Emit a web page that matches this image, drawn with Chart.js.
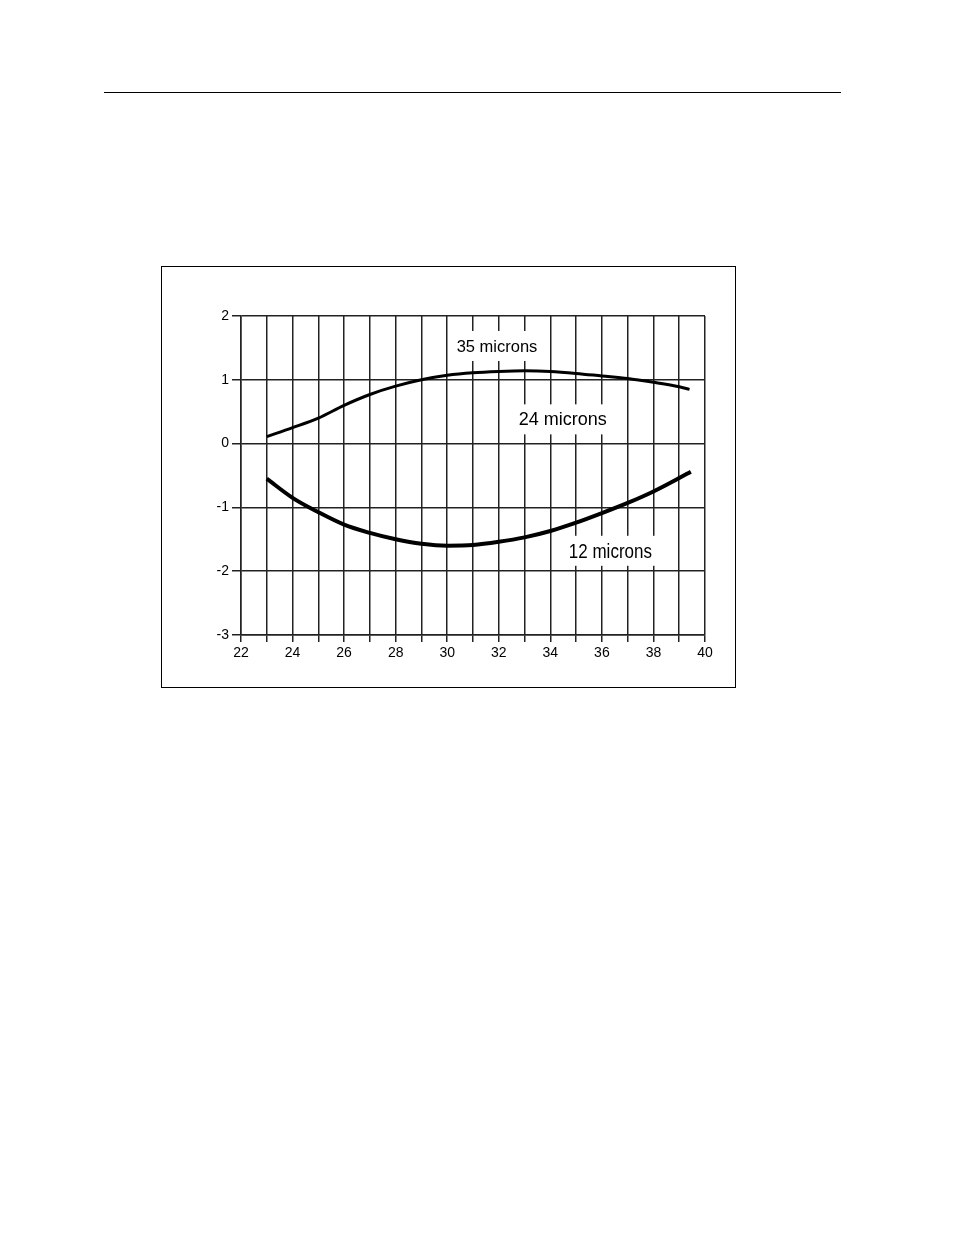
<!DOCTYPE html>
<html>
<head>
<meta charset="utf-8">
<script src="https://cdn.jsdelivr.net/npm/chart.js@4.4.1/dist/chart.umd.min.js"></script>
<style>
  html, body { margin: 0; padding: 0; background: #fff; }
  body { width: 954px; height: 1235px; position: relative; overflow: hidden; }
  #rule { position: absolute; left: 104px; top: 92px; width: 737px; height: 0; border-top: 1px solid #000; }
  #frame { position: absolute; left: 161px; top: 266px; width: 573px; height: 420px; border: 1px solid #000; }
  #wrap { position: absolute; left: 0; top: 0; width: 573px; height: 420px; }
</style>
</head>
<body>
<div id="rule"></div>
<div id="frame"><div id="wrap"><canvas id="chart"></canvas></div></div>
<script>
const FONT = "'Liberation Sans', Arial, sans-serif";

// axis ranges
const xMin = 22, xMax = 40;
const yMin = -3, yMax = 2;

// upper curve
const upperX = [23, 24, 25, 26, 27, 28, 29, 30, 31, 32, 33, 34, 35, 36, 37, 38, 39, 39.4];
const upperY = [0.11, 0.25, 0.40, 0.60, 0.77, 0.90, 1.0, 1.07, 1.11, 1.13, 1.14, 1.13, 1.10, 1.06, 1.02, 0.96, 0.89, 0.85];

// lower curve
const lowerX = [23, 24, 25, 26, 27, 28, 29, 30, 31, 32, 33, 34, 35, 36, 37, 38, 39, 39.45];
const lowerY = [-0.55, -0.85, -1.075, -1.27, -1.40, -1.50, -1.57, -1.60, -1.59, -1.54, -1.47, -1.37, -1.24, -1.09, -0.93, -0.75, -0.54, -0.44];

// curve labels (placed in data units)
const labelText = ['35 microns', '24 microns', '12 microns'];
const labelX = [31.93, 34.48, 36.33];
const labelY = [1.53, 0.38, -1.68];
const labelSize = [16.5, 18, 21];
const labelSquash = [1, 1, 0.81];

const toPoints = (xs, ys) => xs.map((x, i) => ({ x, y: ys[i] }));

const curveLabels = {
  id: 'curveLabels',
  afterDatasetsDraw(chart) {
    const { ctx, scales } = chart;
    labelText.forEach((t, i) => {
      const px = scales.x.getPixelForValue(labelX[i]);
      const py = scales.y.getPixelForValue(labelY[i]);
      ctx.save();
      ctx.font = labelSize[i] + 'px ' + FONT;
      const w = ctx.measureText(t).width * labelSquash[i];
      ctx.fillStyle = '#fff';
      ctx.fillRect(px - w / 2 - 5, py - 15, w + 10, 30);
      ctx.translate(px, py + 1);
      ctx.scale(labelSquash[i], 1);
      ctx.fillStyle = '#000';
      ctx.textAlign = 'center';
      ctx.textBaseline = 'middle';
      ctx.fillText(t, 0, 0);
      ctx.restore();
    });
  }
};

new Chart(document.getElementById('chart'), {
  type: 'line',
  data: {
    datasets: [
      {
        data: toPoints(upperX, upperY),
        borderColor: '#000',
        borderWidth: 3,
        pointRadius: 0,
        cubicInterpolationMode: 'monotone',
        fill: false
      },
      {
        data: toPoints(lowerX, lowerY),
        borderColor: '#000',
        borderWidth: 4,
        pointRadius: 0,
        cubicInterpolationMode: 'monotone',
        fill: false
      }
    ]
  },
  options: {
    responsive: true,
    maintainAspectRatio: false,
    animation: false,
    layout: { padding: { left: 39, top: 49, right: 30, bottom: 22 } },
    plugins: { legend: { display: false }, tooltip: { enabled: false } },
    scales: {
      x: {
        type: 'linear',
        min: xMin,
        max: xMax,
        afterFit: s => { s.height = 30; },
        ticks: {
          stepSize: 1,
          autoSkip: false,
          maxRotation: 0,
          color: '#000',
          padding: 3,
          font: { family: FONT, size: 14 },
          callback: v => (v % 2 === 0 ? v : '')
        },
        grid: { color: '#222', lineWidth: 1.5, tickLength: 7, drawTicks: true },
        border: { color: '#222', width: 1.5 }
      },
      y: {
        min: yMin,
        max: yMax,
        afterFit: s => { s.width = 40; },
        ticks: {
          stepSize: 1,
          color: '#000',
          padding: 3,
          font: { family: FONT, size: 14 }
        },
        grid: { color: '#222', lineWidth: 1.5, tickLength: 9 },
        border: { color: '#222', width: 1.5 }
      }
    }
  },
  plugins: [curveLabels]
});
</script>
</body>
</html>
